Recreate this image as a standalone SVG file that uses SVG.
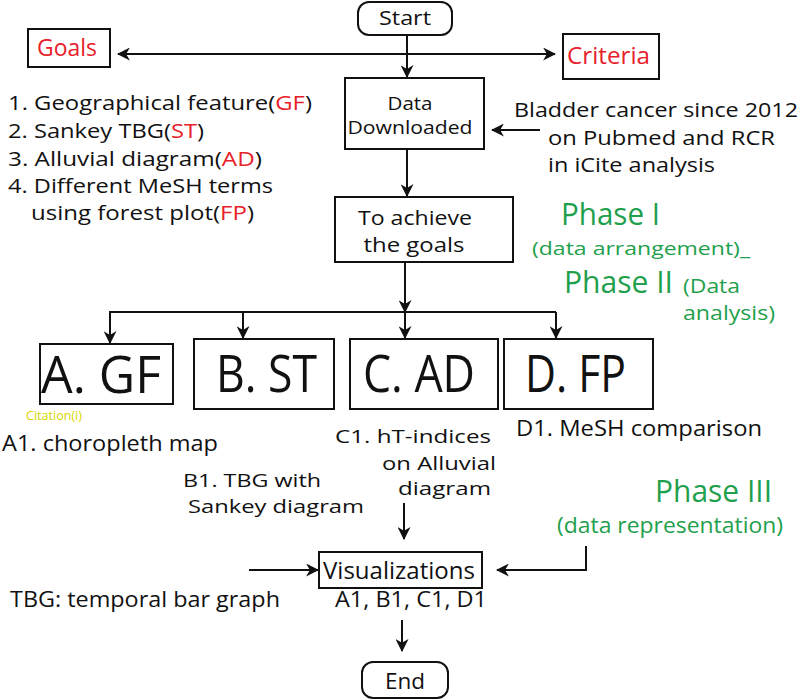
<svg xmlns="http://www.w3.org/2000/svg" width="800" height="699" viewBox="0 0 800 699">
<style>
text{font-family:"Open Sans","Noto Sans","Liberation Sans",sans-serif;fill:#111}
.box{fill:#fff;stroke:#111;stroke-width:2}
.con{fill:none;stroke:#111;stroke-width:2}
.red{fill:#e8202a}
.green{fill:#1fa04c}
.big{font-size:52px}
</style>
<defs>
<marker id="ah" viewBox="0 0 12 12" markerWidth="13" markerHeight="13" refX="11" refY="6" orient="auto-start-reverse" markerUnits="userSpaceOnUse">
<path d="M0,0 L12,6 L0,12 L3.5,6 z" fill="#111"/>
</marker>
</defs>
<rect width="800" height="699" fill="#fff"/>

<g id="connectors">
<line class="con" x1="407" y1="35" x2="407" y2="77" marker-end="url(#ah)"/>
<line class="con" x1="118" y1="54" x2="555" y2="54" marker-start="url(#ah)" marker-end="url(#ah)"/>
<line class="con" x1="407" y1="149" x2="407" y2="196" marker-end="url(#ah)"/>
<line class="con" x1="540" y1="130" x2="492" y2="130" marker-end="url(#ah)"/>
<line class="con" x1="405" y1="262" x2="405" y2="312" marker-end="url(#ah)"/>
<line class="con" x1="109" y1="312" x2="556" y2="312"/>
<line class="con" x1="110" y1="312" x2="110" y2="343" marker-end="url(#ah)"/>
<line class="con" x1="243" y1="312" x2="243" y2="338" marker-end="url(#ah)"/>
<line class="con" x1="405" y1="312" x2="405" y2="338" marker-end="url(#ah)"/>
<line class="con" x1="556" y1="312" x2="556" y2="338" marker-end="url(#ah)"/>
<line class="con" x1="404" y1="503" x2="404" y2="539" marker-end="url(#ah)"/>
<line class="con" x1="249" y1="570" x2="318" y2="570" marker-end="url(#ah)"/>
<polyline class="con" points="586,546 586,570 497,570" marker-end="url(#ah)"/>
<line class="con" x1="402" y1="620" x2="402" y2="651" marker-end="url(#ah)"/>
</g>

<g id="start">
<rect class="box" x="358" y="2" width="94" height="33" rx="11"/>
<text x="405" y="25" font-size="20" text-anchor="middle" textLength="52" lengthAdjust="spacingAndGlyphs">Start</text>
</g>

<g id="goals">
<rect class="box" x="28" y="29" width="82" height="38"/>
<text class="red" x="37" y="56" font-size="23" textLength="60" lengthAdjust="spacingAndGlyphs">Goals</text>
</g>

<g id="criteria">
<rect class="box" x="563" y="34" width="96" height="45"/>
<text class="red" x="567" y="64" font-size="23" textLength="83" lengthAdjust="spacingAndGlyphs">Criteria</text>
</g>

<g id="goals-list" font-size="20">
<text x="8" y="110" textLength="304" lengthAdjust="spacingAndGlyphs">1. Geographical feature(<tspan class="red">GF</tspan>)</text>
<text x="8" y="138" textLength="196" lengthAdjust="spacingAndGlyphs">2. Sankey TBG(<tspan class="red">ST</tspan>)</text>
<text x="8" y="166" textLength="254" lengthAdjust="spacingAndGlyphs">3. Alluvial diagram(<tspan class="red">AD</tspan>)</text>
<text x="8" y="193" textLength="265" lengthAdjust="spacingAndGlyphs">4. Different MeSH terms</text>
<text x="31" y="220" textLength="223" lengthAdjust="spacingAndGlyphs">using forest plot(<tspan class="red">FP</tspan>)</text>
</g>

<g id="data-downloaded">
<rect class="box" x="345" y="78" width="139" height="71"/>
<text x="410" y="110" font-size="19" text-anchor="middle" textLength="45" lengthAdjust="spacingAndGlyphs">Data</text>
<text x="410" y="134" font-size="19" text-anchor="middle" textLength="125" lengthAdjust="spacingAndGlyphs">Downloaded</text>
</g>

<g id="bladder-text" font-size="20">
<text x="514" y="117" textLength="284" lengthAdjust="spacingAndGlyphs">Bladder cancer since 2012</text>
<text x="548" y="145" textLength="227" lengthAdjust="spacingAndGlyphs">on Pubmed and RCR</text>
<text x="548" y="172" textLength="167" lengthAdjust="spacingAndGlyphs">in iCite analysis</text>
</g>

<g id="achieve">
<rect class="box" x="335" y="197" width="178" height="65"/>
<text x="415" y="225" font-size="20" text-anchor="middle" textLength="114" lengthAdjust="spacingAndGlyphs">To achieve</text>
<text x="414" y="252" font-size="20" text-anchor="middle" textLength="101" lengthAdjust="spacingAndGlyphs">the goals</text>
</g>

<g id="phases">
<text class="green" x="561" y="225" font-size="31" textLength="99" lengthAdjust="spacingAndGlyphs">Phase I</text>
<text class="green" x="532" y="255" font-size="19" textLength="218" lengthAdjust="spacingAndGlyphs">(data arrangement)_</text>
<text class="green" x="564" y="293" font-size="31" textLength="109" lengthAdjust="spacingAndGlyphs">Phase II</text>
<text class="green" x="683" y="293" font-size="20" textLength="57" lengthAdjust="spacingAndGlyphs">(Data</text>
<text class="green" x="683" y="320" font-size="20" textLength="92" lengthAdjust="spacingAndGlyphs">analysis)</text>
<text class="green" x="655" y="502" font-size="31" textLength="117" lengthAdjust="spacingAndGlyphs">Phase III</text>
<text class="green" x="557" y="533" font-size="21" textLength="226" lengthAdjust="spacingAndGlyphs">(data representation)</text>
</g>

<g id="a-gf">
<rect class="box" x="40" y="344" width="133" height="60"/>
<text class="big" x="41" y="393" textLength="120" lengthAdjust="spacingAndGlyphs">A. GF</text>
</g>
<g id="b-st">
<rect class="box" x="194" y="339" width="140" height="70"/>
<text class="big" x="216" y="392" textLength="101" lengthAdjust="spacingAndGlyphs">B. ST</text>
</g>
<g id="c-ad">
<rect class="box" x="350" y="339" width="148" height="70"/>
<text class="big" x="363" y="392" textLength="112" lengthAdjust="spacingAndGlyphs">C. AD</text>
</g>
<g id="d-fp">
<rect class="box" x="504" y="339" width="149" height="70"/>
<text class="big" x="525" y="392" textLength="101" lengthAdjust="spacingAndGlyphs">D. FP</text>
</g>

<g id="labels" font-size="19">
<text x="26" y="420" font-size="12" style="fill:#d6d600" textLength="56" lengthAdjust="spacingAndGlyphs">Citation(i)</text>
<text x="2" y="451" font-size="21" textLength="216" lengthAdjust="spacingAndGlyphs">A1. choropleth map</text>
<text x="335" y="443" textLength="156" lengthAdjust="spacingAndGlyphs">C1. hT-indices</text>
<text x="382" y="470" textLength="114" lengthAdjust="spacingAndGlyphs">on Alluvial</text>
<text x="398" y="495" textLength="93" lengthAdjust="spacingAndGlyphs">diagram</text>
<text x="516" y="436" font-size="21" textLength="246" lengthAdjust="spacingAndGlyphs">D1. MeSH comparison</text>
<text x="183" y="487" textLength="138" lengthAdjust="spacingAndGlyphs">B1. TBG with</text>
<text x="188" y="513" textLength="176" lengthAdjust="spacingAndGlyphs">Sankey diagram</text>
<text x="10" y="607" font-size="22" textLength="270" lengthAdjust="spacingAndGlyphs">TBG: temporal bar graph</text>
</g>

<g id="visualizations">
<rect class="box" x="319" y="552" width="163" height="36"/>
<text x="323" y="579" font-size="24" textLength="152" lengthAdjust="spacingAndGlyphs">Visualizations</text>
<text x="335" y="607" font-size="21" textLength="152" lengthAdjust="spacingAndGlyphs">A1, B1, C1, D1</text>
</g>

<g id="end">
<rect class="box" x="362" y="662" width="86" height="36" rx="11"/>
<text x="405" y="689" font-size="21" text-anchor="middle" textLength="40" lengthAdjust="spacingAndGlyphs">End</text>
</g>
</svg>
